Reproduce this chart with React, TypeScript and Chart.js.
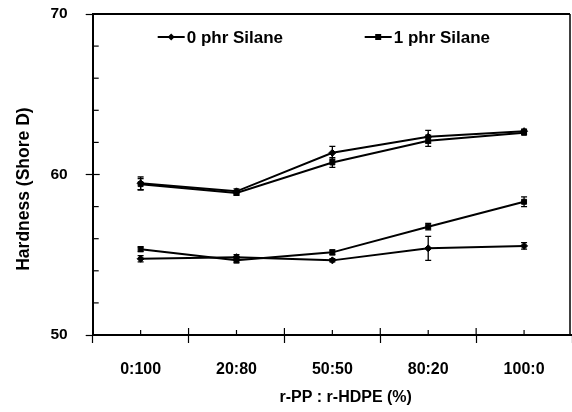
import { useEffect, useRef } from 'react';
import { Chart, registerables } from 'chart.js';

Chart.register(...registerables);

const categories = ['0:100', '20:80', '50:50', '80:20', '100:0'];
const silane0Upper = [59.45, 58.95, 61.35, 62.35, 62.7];
const silane1Upper = [59.4, 58.85, 60.75, 62.1, 62.6];
const silane0Lower = [54.75, 54.85, 54.65, 55.4, 55.55];
const silane1Lower = [55.35, 54.65, 55.15, 56.75, 58.3];
const err0Upper = [0.4, 0.15, 0.4, 0.4, 0.12];
const err1Upper = [0.35, 0.15, 0.3, 0.35, 0.12];
const err0Lower = [0.2, 0.15, 0.1, 0.75, 0.2];
const err1Lower = [0.15, 0.15, 0.15, 0.2, 0.3];
const legendLabels = ['0 phr Silane', '1 phr Silane'];

const FONT = "'Liberation Sans', Arial, sans-serif";

const errorBars = {
  id: 'errorBars',
  afterDatasetsDraw(chart: any) {
    const { ctx, scales } = chart;
    const y = scales.y;
    ctx.save();
    ctx.strokeStyle = '#000';
    ctx.lineWidth = 1.3;
    chart.data.datasets.forEach((ds: any, i: number) => {
      const meta = chart.getDatasetMeta(i);
      (ds.errors || []).forEach((e: number, j: number) => {
        const pt = meta.data[j];
        if (!pt) return;
        const v = ds.data[j];
        const t = y.getPixelForValue(v + e);
        const b = y.getPixelForValue(v - e);
        ctx.beginPath();
        ctx.moveTo(pt.x, t);
        ctx.lineTo(pt.x, b);
        ctx.moveTo(pt.x - 3, t);
        ctx.lineTo(pt.x + 3, t);
        ctx.moveTo(pt.x - 3, b);
        ctx.lineTo(pt.x + 3, b);
        ctx.stroke();
      });
    });
    ctx.restore();
  },
};

const frame = {
  id: 'frame',
  afterDraw(chart: any) {
    const { ctx, chartArea, scales } = chart;
    const { left, top, bottom } = chartArea;
    const right = Math.min(chartArea.right, chart.width - 1);
    const x = scales.x;
    const y = scales.y;
    ctx.save();
    ctx.strokeStyle = '#000';
    ctx.lineWidth = 2;
    ctx.beginPath();
    ctx.moveTo(left, top);
    ctx.lineTo(right - 1, top);
    ctx.stroke();
    ctx.lineWidth = 1.5;
    ctx.beginPath();
    ctx.moveTo(right - 1, top);
    ctx.lineTo(right - 1, bottom);
    ctx.stroke();
    ctx.lineWidth = 1.2;
    y.ticks.forEach((t: any) => {
      const py = y.getPixelForValue(t.value);
      const len = t.value % 10 === 0 ? 7 : 6;
      ctx.beginPath();
      ctx.moveTo(left, py);
      ctx.lineTo(left + len, py);
      ctx.stroke();
    });
    for (let i = 0; i < categories.length; i++) {
      const pc = x.getPixelForValue(i);
      ctx.beginPath();
      ctx.moveTo(pc, bottom);
      ctx.lineTo(pc, bottom - 5);
      ctx.stroke();
      if (i > 0) {
        const pb = x.getPixelForValue(i - 0.5);
        ctx.beginPath();
        ctx.moveTo(pb, bottom);
        ctx.lineTo(pb, bottom - 7);
        ctx.stroke();
      }
    }
    ctx.restore();
  },
};

const insideLegend = {
  id: 'insideLegend',
  afterDraw(chart: any) {
    const { ctx, chartArea } = chart;
    const offsets = [65, 272];
    const yy = chartArea.top + 23;
    ctx.save();
    ctx.strokeStyle = '#000';
    ctx.fillStyle = '#000';
    ctx.font = `bold 17px ${FONT}`;
    ctx.textBaseline = 'middle';
    ctx.textAlign = 'left';
    chart.data.datasets
      .filter((ds: any) => ds.inLegend)
      .forEach((ds: any, k: number) => {
        const x0 = chartArea.left + offsets[k];
        ctx.lineWidth = 2;
        ctx.beginPath();
        ctx.moveTo(x0, yy);
        ctx.lineTo(x0 + 27, yy);
        ctx.stroke();
        const cx = x0 + 13.5;
        ctx.beginPath();
        if (ds.pointStyle === 'rectRot') {
          ctx.moveTo(cx, yy - 3.5);
          ctx.lineTo(cx + 3.5, yy);
          ctx.lineTo(cx, yy + 3.5);
          ctx.lineTo(cx - 3.5, yy);
        } else {
          ctx.rect(cx - 3, yy - 3, 6, 6);
        }
        ctx.closePath();
        ctx.fill();
        ctx.fillText(ds.label, x0 + 29, yy + 1);
      });
    ctx.restore();
  },
};

export default function App() {
  const ref = useRef<HTMLCanvasElement>(null);
  useEffect(() => {
    if (!ref.current) return;
    const mk = (label: string, data: number[], errors: number[], style: string, inLegend: boolean) => ({
      label,
      data,
      errors,
      inLegend,
      borderColor: '#000',
      backgroundColor: '#000',
      borderWidth: 2,
      pointStyle: style,
      pointRadius: 3.5,
      pointBorderWidth: 1,
      tension: 0,
      fill: false,
    });
    const chart = new Chart(ref.current, {
      type: 'line',
      data: {
        labels: categories,
        datasets: [
          mk(legendLabels[0], silane0Lower, err0Lower, 'rectRot', true),
          mk(legendLabels[1], silane1Lower, err1Lower, 'rect', true),
          mk(legendLabels[0], silane0Upper, err0Upper, 'rectRot', false),
          mk(legendLabels[1], silane1Upper, err1Upper, 'rect', false),
        ] as any,
      },
      options: {
        animation: false,
        responsive: true,
        maintainAspectRatio: false,
        layout: { autoPadding: false, padding: { top: 14, right: 0, left: 0, bottom: 0 } },
        plugins: { legend: { display: false }, tooltip: { enabled: false } },
        scales: {
          x: {
            type: 'category',
            offset: true,
            grid: { offset: true, drawOnChartArea: false, tickLength: 8, tickColor: '#000', tickWidth: 1.2 },
            border: { color: '#000', width: 2 },
            ticks: { color: '#000', padding: 17, font: { family: FONT, size: 16, weight: 'bold' } },
            title: {
              display: true,
              text: '      r-PP : r-HDPE (%)',
              color: '#000',
              font: { family: FONT, size: 16, weight: 'bold' },
              padding: { top: 0, bottom: 5 },
            },
            afterFit(s: any) {
              s.height = 77;
              s.paddingLeft = 0;
              s.paddingRight = 0;
            },
          },
          y: {
            min: 50,
            max: 70,
            grid: {
              drawOnChartArea: false,
              tickLength: 7,
              tickWidth: 1.2,
              tickColor: (c: any) => (c.tick && c.tick.value % 10 === 0 ? '#000' : 'rgba(0,0,0,0)'),
            },
            border: { color: '#000', width: 2 },
            ticks: {
              stepSize: 2,
              color: '#000',
              padding: 18,
              font: { family: FONT, size: 15.5, weight: 'bold' },
              callback: (v: any) => (Number(v) % 10 === 0 ? String(v) : ''),
            },
            title: {
              display: true,
              text: 'Hardness (Shore D)      ',
              color: '#000',
              font: { family: FONT, size: 17.5, weight: 'bold' },
              padding: { top: 14, bottom: 0 },
            },
            afterFit(s: any) {
              s.width = 92.7;
              s.paddingTop = 0;
              s.paddingBottom = 0;
            },
          },
        },
      } as any,
      plugins: [errorBars, frame, insideLegend],
    });
    return () => chart.destroy();
  }, []);
  return (
    <div style={{ position: 'fixed', left: 0, top: 0, width: 572, height: 412, background: '#fff' }}>
      <canvas ref={ref} />
    </div>
  );
}
